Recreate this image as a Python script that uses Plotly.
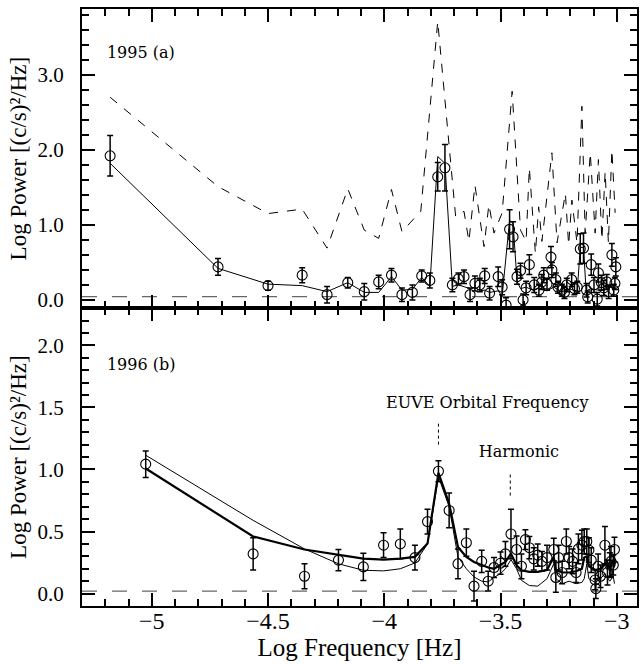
import plotly.graph_objects as go

# ---------------- 1995 (a) ----------------
a_x = [-5.179, -4.715, -4.500, -4.353, -4.246, -4.157, -4.086, -4.024, -3.969, -3.924,
       -3.879, -3.839, -3.804, -3.770, -3.739, -3.707, -3.681, -3.657, -3.631, -3.610,
       -3.589, -3.568, -3.547, -3.510, -3.493, -3.476, -3.461, -3.446, -3.429, -3.414,
       -3.403, -3.390, -3.376, -3.355, -3.335, -3.322, -3.314, -3.300, -3.283, -3.279,
       -3.262, -3.253, -3.236, -3.225, -3.215, -3.194, -3.182, -3.170, -3.157, -3.143,
       -3.130, -3.125, -3.110, -3.098, -3.084, -3.079, -3.066, -3.056, -3.043, -3.035,
       -3.021, -3.013, -3.008, -3.004]
a_y = [1.92, 0.44, 0.19, 0.33, 0.07, 0.23, 0.11, 0.24, 0.33, 0.07,
       0.10, 0.32, 0.26, 1.64, 1.76, 0.20, 0.28, 0.31, 0.07, 0.22,
       0.20, 0.32, 0.09, 0.31, 0.17, -0.07, 0.94, 0.84, 0.31, 0.39,
       0.00, 0.16, 0.47, 0.20, 0.13, 0.24, 0.33, 0.21, 0.57, 0.40,
       0.27, 0.17, 0.13, 0.10, 0.20, 0.27, 0.15, 0.17, 0.68, 0.69,
       0.13, 0.04, 0.47, 0.20, 0.01, 0.36, 0.23, 0.16, 0.24, 0.11,
       0.60, 0.13, 0.22, 0.44]
a_err = [0.27, 0.11, 0.06, 0.10, 0.11, 0.07, 0.11, 0.09, 0.09, 0.09,
         0.10, 0.08, 0.10, 0.19, 0.31, 0.09, 0.08, 0.09, 0.09, 0.10,
         0.09, 0.10, 0.09, 0.13, 0.10, 0.10, 0.26, 0.20, 0.10, 0.10,
         0.08, 0.09, 0.13, 0.10, 0.08, 0.10, 0.10, 0.08, 0.14, 0.10,
         0.09, 0.08, 0.08, 0.08, 0.09, 0.09, 0.08, 0.08, 0.20, 0.20,
         0.09, 0.08, 0.14, 0.10, 0.09, 0.12, 0.10, 0.10, 0.10, 0.09,
         0.15, 0.08, 0.08, 0.12]

a_model_x = [-5.179, -4.715, -4.500, -4.353, -4.246, -4.157, -4.086, -4.024, -3.969, -3.924,
             -3.879, -3.839, -3.804, -3.770, -3.739, -3.707, -3.681, -3.657, -3.631, -3.610,
             -3.589, -3.568, -3.547, -3.510, -3.493, -3.461, -3.446, -3.429, -3.414, -3.390,
             -3.362, -3.336, -3.300, -3.271, -3.240, -3.200, -3.170, -3.157, -3.143, -3.132,
             -3.110, -3.079, -3.045, -3.021, -3.010]
a_model_y = [1.82, 0.42, 0.21, 0.19, 0.11, 0.23, 0.10, 0.10, 0.31, 0.13,
             0.14, 0.30, 0.18, 1.91, 1.82, 0.18, 0.20, 0.18, 0.15, 0.17,
             0.12, 0.13, 0.10, 0.12, 0.05, 1.06, 1.02, 0.25, 0.15, 0.17,
             0.13, 0.16, 0.12, 0.17, 0.11, 0.14, 0.12, 0.70, 0.70, 0.12,
             0.15, 0.13, 0.14, 0.18, 0.16]

a_thr_x = [-5.179, -4.715, -4.500, -4.353, -4.246, -4.157, -4.086, -4.024, -3.969, -3.924,
           -3.843, -3.770, -3.693, -3.657, -3.636, -3.610, -3.571, -3.550, -3.528, -3.493,
           -3.450, -3.414, -3.390, -3.376, -3.350, -3.336, -3.322, -3.279, -3.257, -3.221,
           -3.207, -3.193, -3.171, -3.150, -3.136, -3.114, -3.093, -3.079, -3.064, -3.050,
           -3.036, -3.021, -3.007]
a_thr_y = [2.70, 1.51, 1.15, 1.21, 0.69, 1.48, 0.93, 0.82, 1.47, 0.91,
           1.18, 3.71, 1.11, 1.18, 0.78, 1.53, 0.71, 1.27, 0.89, 1.16,
           2.78, 0.93, 0.78, 1.76, 0.62, 1.24, 0.78, 1.96, 0.76, 1.42,
           0.73, 1.33, 0.76, 2.58, 0.89, 1.96, 0.89, 1.87, 0.80, 1.71,
           0.76, 2.00, 1.16]
a_level = 0.044

# ---------------- 1996 (b) ----------------
b_x = [-5.026, -4.564, -4.343, -4.197, -4.090, -4.003, -3.931, -3.868, -3.814, -3.767,
       -3.721, -3.683, -3.647, -3.614, -3.581, -3.553, -3.528, -3.500, -3.479, -3.455,
       -3.431, -3.410, -3.393, -3.376, -3.357, -3.340, -3.322, -3.300, -3.271, -3.262,
       -3.250, -3.235, -3.217, -3.205, -3.190, -3.175, -3.165, -3.150, -3.140, -3.129,
       -3.120, -3.110, -3.093, -3.090, -3.080, -3.070, -3.051, -3.040, -3.030, -3.025,
       -3.015, -3.010]
b_y = [1.043, 0.32, 0.14, 0.27, 0.215, 0.39, 0.40, 0.29, 0.58, 0.986,
       0.67, 0.24, 0.41, 0.06, 0.26, 0.10, 0.21, 0.245, 0.32, 0.48,
       0.355, 0.22, 0.435, 0.37, 0.28, 0.31, 0.26, 0.29, 0.355, 0.13,
       0.29, 0.17, 0.42, 0.29, 0.26, 0.17, 0.36, 0.39, 0.42, 0.42,
       0.35, 0.27, 0.11, 0.04, 0.22, 0.14, 0.39, 0.17, 0.23, 0.26,
       0.23, 0.355]
b_err = [0.107, 0.13, 0.10, 0.085, 0.11, 0.10, 0.12, 0.10, 0.10, 0.085,
         0.14, 0.12, 0.11, 0.12, 0.09, 0.08, 0.08, 0.09, 0.10, 0.20,
         0.11, 0.10, 0.08, 0.09, 0.09, 0.09, 0.08, 0.10, 0.09, 0.12,
         0.10, 0.09, 0.10, 0.09, 0.10, 0.08, 0.12, 0.12, 0.10, 0.10,
         0.10, 0.10, 0.08, 0.08, 0.10, 0.09, 0.15, 0.10, 0.10, 0.12,
         0.08, 0.10]

b_model1_x = [-5.026, -4.564, -4.343, -4.197, -4.090, -4.003, -3.931, -3.868, -3.814, -3.767,
              -3.721, -3.683, -3.647, -3.614, -3.581, -3.553, -3.528, -3.500, -3.479, -3.455,
              -3.431, -3.410, -3.376, -3.340, -3.300, -3.271, -3.262, -3.235, -3.205, -3.175,
              -3.150, -3.140, -3.129, -3.120, -3.093, -3.070, -3.051, -3.030, -3.015, -3.010]
b_model1_y = [1.008, 0.46, 0.355, 0.31, 0.282, 0.274, 0.282, 0.296, 0.403, 0.973,
              0.726, 0.376, 0.296, 0.255, 0.228, 0.21, 0.20, 0.228, 0.255, 0.322,
              0.228, 0.188, 0.175, 0.175, 0.19, 0.296, 0.188, 0.17, 0.17, 0.18,
              0.20, 0.29, 0.30, 0.22, 0.19, 0.20, 0.24, 0.20, 0.27, 0.22]
b_model2_x = [-5.026, -4.564, -4.343, -4.197, -4.090, -4.003, -3.931, -3.868, -3.814, -3.767,
              -3.721, -3.683, -3.647, -3.614, -3.581, -3.553, -3.528, -3.500, -3.479, -3.455,
              -3.431, -3.410, -3.376, -3.340, -3.300, -3.271, -3.262, -3.235, -3.205, -3.175,
              -3.150, -3.140, -3.129, -3.120, -3.093, -3.070, -3.051, -3.030, -3.015, -3.010]
b_model2_y = [1.115, 0.59, 0.36, 0.24, 0.188, 0.183, 0.20, 0.247, 0.40, 0.94,
              0.70, 0.296, 0.20, 0.134, 0.10, 0.094, 0.13, 0.161, 0.20, 0.274,
              0.20, 0.107, 0.065, 0.06, 0.12, 0.241, 0.12, 0.08, 0.10, 0.08,
              0.09, 0.12, 0.24, 0.12, 0.09, 0.12, 0.16, 0.10, 0.14, 0.08]
b_level = 0.02

orbital_x = -3.767
orbital_line_y = [1.20, 1.39]
harmonic_x = -3.458
harmonic_line_y = [0.79, 0.98]

label_a = "1995 (a)"
label_b = "1996 (b)"
label_orbital = "EUVE Orbital Frequency"
label_harmonic = "Harmonic"
y_title = "Log Power [(c/s)\u00b2/Hz]"
x_title = "Log Frequency [Hz]"

# ---------------- figure ----------------
SERIF = "Liberation Serif"
ANN = "DejaVu Serif"

fig = go.Figure()

err_style = dict(type="data", thickness=1.5, width=3, color="black")
mk = dict(symbol="circle-open", size=10, color="black", line=dict(width=1.1, color="black"))

fig.add_trace(go.Scatter(x=[-5.3, -2.9], y=[a_level, a_level], mode="lines",
                         line=dict(color="#666", width=1.3, dash="longdash"),
                         xaxis="x2", yaxis="y2", showlegend=False))
fig.add_trace(go.Scatter(x=a_thr_x, y=a_thr_y, mode="lines",
                         line=dict(color="black", width=1, dash="dash"),
                         xaxis="x2", yaxis="y2", showlegend=False))
fig.add_trace(go.Scatter(x=a_model_x, y=a_model_y, mode="lines",
                         line=dict(color="black", width=1),
                         xaxis="x2", yaxis="y2", showlegend=False))
fig.add_trace(go.Scatter(x=a_x, y=a_y, mode="markers", marker=mk,
                         error_y=dict(array=a_err, **err_style),
                         xaxis="x2", yaxis="y2", showlegend=False))

fig.add_trace(go.Scatter(x=[-5.3, -2.9], y=[b_level, b_level], mode="lines",
                         line=dict(color="#666", width=1.3, dash="longdash"),
                         xaxis="x", yaxis="y", showlegend=False))
fig.add_trace(go.Scatter(x=b_model2_x, y=b_model2_y, mode="lines",
                         line=dict(color="black", width=1),
                         xaxis="x", yaxis="y", showlegend=False))
fig.add_trace(go.Scatter(x=b_model1_x, y=b_model1_y, mode="lines",
                         line=dict(color="black", width=2.2),
                         xaxis="x", yaxis="y", showlegend=False))
fig.add_trace(go.Scatter(x=b_x, y=b_y, mode="markers", marker=mk,
                         error_y=dict(array=b_err, **err_style),
                         xaxis="x", yaxis="y", showlegend=False))
fig.add_trace(go.Scatter(x=[orbital_x, orbital_x], y=orbital_line_y, mode="lines",
                         line=dict(color="black", width=1, dash="dot"),
                         xaxis="x", yaxis="y", showlegend=False))
fig.add_trace(go.Scatter(x=[harmonic_x, harmonic_x], y=harmonic_line_y, mode="lines",
                         line=dict(color="black", width=1, dash="dot"),
                         xaxis="x", yaxis="y", showlegend=False))

fig.add_trace(go.Scatter(x=[-5.193], y=[3.27], mode="text", text=[label_a],
                         textposition="middle right",
                         textfont=dict(family=ANN, size=16, color="black"),
                         xaxis="x2", yaxis="y2", showlegend=False, hoverinfo="skip"))
fig.add_trace(go.Scatter(x=[-5.193, -3.557, -3.421], y=[1.83, 1.53, 1.13], mode="text",
                         text=[label_b, label_orbital, label_harmonic],
                         textposition=["middle right", "middle center", "middle center"],
                         textfont=dict(family=ANN, size=16, color="black"),
                         xaxis="x", yaxis="y", showlegend=False, hoverinfo="skip"))

axis_common = dict(showline=True, linecolor="black", linewidth=2, mirror="allticks",
                   ticks="inside", tickcolor="black", tickwidth=1.5, ticklen=13,
                   showgrid=False, zeroline=False)

split = 0.4989
ytitle = dict(text=y_title, font=dict(family=SERIF, size=23, color="black"), standoff=4)
fig.update_layout(
    width=641, height=664,
    margin=dict(l=82, r=2, t=9, b=58),
    paper_bgcolor="white", plot_bgcolor="white",
    xaxis=dict(domain=[0, 1], range=[-5.3, -2.913], anchor="y",
               tickmode="linear", tick0=-5, dtick=0.5,
               tickfont=dict(family=SERIF, size=24, color="black"), ticklabelstandoff=-8,
               minor=dict(ticks="inside", ticklen=7, dtick=0.1, tick0=-5),
               title=dict(text=x_title, font=dict(family=SERIF, size=25, color="black"),
                          standoff=3),
               **axis_common),
    yaxis=dict(domain=[0, split], range=[-0.1, 2.3], anchor="x",
               tickmode="linear", tick0=0, dtick=0.5, tickformat=".1f",
               tickfont=dict(family=SERIF, size=21, color="black"), ticklabelstandoff=12,
               minor=dict(ticks="inside", ticklen=7, dtick=0.1, tick0=0),
               title=ytitle,
               **axis_common),
    xaxis2=dict(domain=[0, 1], range=[-5.3, -2.913], anchor="y2",
                tickmode="linear", tick0=-5, dtick=0.5, showticklabels=False,
                minor=dict(ticks="inside", ticklen=7, dtick=0.1, tick0=-5),
                **axis_common),
    yaxis2=dict(domain=[split, 1], range=[-0.11, 3.876], anchor="x2",
                tickmode="linear", tick0=0, dtick=1, tickformat=".1f",
                tickfont=dict(family=SERIF, size=21, color="black"), ticklabelstandoff=12,
                minor=dict(ticks="inside", ticklen=7, dtick=0.2, tick0=0),
                title=ytitle,
                **axis_common),
)

fig.write_html("out.html")
